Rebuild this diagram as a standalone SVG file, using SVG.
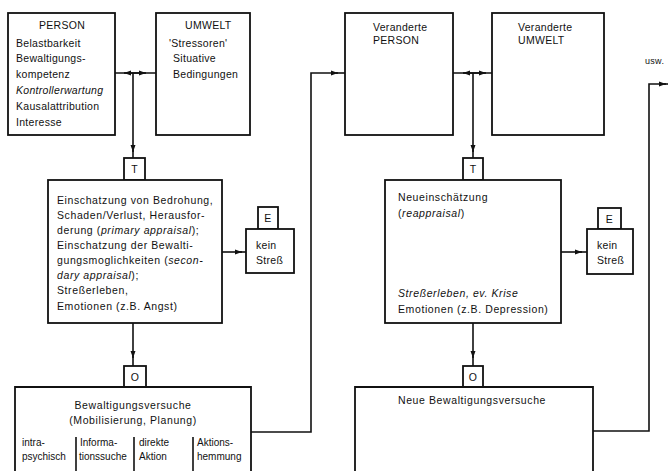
<svg xmlns="http://www.w3.org/2000/svg" width="668" height="471" viewBox="0 0 668 471">
<defs>
<marker id="ah" markerWidth="8" markerHeight="6" refX="7" refY="3" orient="auto" markerUnits="userSpaceOnUse">
<path d="M0,0.5 L7,3 L0,5.5 Z" fill="#111"/>
</marker>
<style>
.box{fill:#fff;stroke:#111;stroke-width:1.8}
.ln{fill:none;stroke:#111;stroke-width:1.6}
.t{font-family:"Liberation Sans","DejaVu Sans",sans-serif;font-size:10.5px;fill:#111;letter-spacing:0.3px}
.w{letter-spacing:0.6px}
.s{font-size:10px;letter-spacing:0}
.i{font-style:italic}
.c{text-anchor:middle}
</style>
</defs>
<rect width="668" height="471" fill="#fff"/>

<g id="connectors">
<path class="ln" d="M115,73 H156"/>
<path class="ln" d="M133,73 H124" marker-end="url(#ah)"/>
<path class="ln" d="M133,73 H146" marker-end="url(#ah)"/>
<path class="ln" d="M133,73 V152" marker-end="url(#ah)"/>
<path class="ln" d="M133,150 V158"/>
<path class="ln" d="M222,252 H242" marker-end="url(#ah)"/>
<path class="ln" d="M240,252 H246"/>
<path class="ln" d="M133,323 V358" marker-end="url(#ah)"/>
<path class="ln" d="M133,356 V366"/>
<path class="ln" d="M251,432 H311 V73 H338" marker-end="url(#ah)"/>
<path class="ln" d="M336,73 H345"/>
<path class="ln" d="M453,73 H492"/>
<path class="ln" d="M473,73 H463" marker-end="url(#ah)"/>
<path class="ln" d="M473,73 H486" marker-end="url(#ah)"/>
<path class="ln" d="M473,73 V152" marker-end="url(#ah)"/>
<path class="ln" d="M473,150 V158"/>
<path class="ln" d="M561,252 H582" marker-end="url(#ah)"/>
<path class="ln" d="M580,252 H587"/>
<path class="ln" d="M473,323 V358" marker-end="url(#ah)"/>
<path class="ln" d="M473,356 V366"/>
<path class="ln" d="M593,431 H649 V84 H666" marker-end="url(#ah)"/>
<path class="ln" d="M664,84 H668"/>
</g>

<g id="person">
<rect class="box" x="8" y="13" width="107" height="122"/>
<text class="t c" x="62" y="29">PERSON</text>
<text class="t" x="16" y="47">Belastbarkeit</text>
<text class="t" x="16" y="62">Bewaltigungs-</text>
<text class="t" x="16" y="78">kompetenz</text>
<text class="t i" x="16" y="94">Kontrollerwartung</text>
<text class="t" x="16" y="110">Kausalattribution</text>
<text class="t" x="16" y="126">Interesse</text>
</g>

<g id="umwelt">
<rect class="box" x="156" y="13" width="94" height="122"/>
<text class="t" x="185" y="29">UMWELT</text>
<text class="t" x="169" y="47">'Stressoren'</text>
<text class="t" x="173" y="62">Situative</text>
<text class="t" x="173" y="78">Bedingungen</text>
</g>

<g id="t1">
<rect class="box" x="124" y="158" width="21" height="22"/>
<text class="t c" x="134.5" y="173">T</text>
</g>

<g id="einschaetzung">
<rect class="box" x="48" y="180" width="174" height="143"/>
<text class="t w" x="57" y="204">Einschatzung von Bedrohung,</text>
<text class="t w" x="57" y="219">Schaden/Verlust, Herausfor-</text>
<text class="t w" x="57" y="234">derung (<tspan class="i">primary appraisal</tspan>);</text>
<text class="t w" x="57" y="249">Einschatzung der Bewalti-</text>
<text class="t w" x="57" y="264">gungsmoglichkeiten (<tspan class="i">secon-</tspan></text>
<text class="t w" x="57" y="279"><tspan class="i">dary appraisal</tspan>);</text>
<text class="t w" x="57" y="294">Streßerleben,</text>
<text class="t w" x="57" y="310">Emotionen (z.B. Angst)</text>
</g>

<g id="e1">
<rect class="box" x="258" y="207" width="20" height="22"/>
<text class="t c" x="268" y="222">E</text>
</g>

<g id="keinstress1">
<rect class="box" x="246" y="229" width="48" height="44"/>
<text class="t" x="256" y="249">kein</text>
<text class="t" x="256" y="264">Streß</text>
</g>

<g id="o1">
<rect class="box" x="124" y="366" width="22" height="21"/>
<text class="t c" x="135" y="381">O</text>
</g>

<g id="bewaeltigung">
<path class="box" d="M15,471 V387 H251 V471"/>
<text class="t c w" x="133" y="409">Bewaltigungsversuche</text>
<text class="t c w" x="133" y="424">(Mobilisierung, Planung)</text>
<path class="ln" d="M76,437 V471 M134,437 V471 M193,437 V471"/>
<text class="t s" x="22" y="446">intra-</text>
<text class="t s" x="22" y="460">psychisch</text>
<text class="t s" x="80" y="446">Informa-</text>
<text class="t s" x="79" y="460">tionssuche</text>
<text class="t s" x="139" y="446">direkte</text>
<text class="t s" x="139" y="460">Aktion</text>
<text class="t s" x="197" y="446">Aktions-</text>
<text class="t s" x="197" y="460">hemmung</text>
</g>

<g id="vperson">
<rect class="box" x="345" y="13" width="108" height="122"/>
<text class="t" x="373" y="31">Veranderte</text>
<text class="t" x="373" y="44">PERSON</text>
</g>

<g id="vumwelt">
<rect class="box" x="492" y="13" width="112" height="122"/>
<text class="t" x="518" y="31">Veranderte</text>
<text class="t" x="518" y="44">UMWELT</text>
</g>

<g id="t2">
<rect class="box" x="463" y="158" width="20" height="22"/>
<text class="t c" x="473" y="173">T</text>
</g>

<g id="neueinschaetzung">
<rect class="box" x="385" y="180" width="176" height="143"/>
<text class="t w" x="398" y="201">Neueinschätzung</text>
<text class="t w" x="398" y="217">(<tspan class="i">reappraisal</tspan>)</text>
<text class="t w" x="398" y="297"><tspan class="i">Streßerleben, ev. Krise</tspan></text>
<text class="t w" x="398" y="313">Emotionen (z.B. Depression)</text>
</g>

<g id="e2">
<rect class="box" x="598" y="208" width="23" height="21"/>
<text class="t c" x="609.5" y="223">E</text>
</g>

<g id="keinstress2">
<rect class="box" x="587" y="229" width="46" height="45"/>
<text class="t" x="597" y="249">kein</text>
<text class="t" x="597" y="264">Streß</text>
</g>

<g id="o2">
<rect class="box" x="463" y="366" width="20" height="21"/>
<text class="t c" x="473" y="381">O</text>
</g>

<g id="neuebewaeltigung">
<path class="box" d="M355,471 V387 H593 V471"/>
<text class="t c w" x="472" y="404">Neue Bewaltigungsversuche</text>
</g>

<g id="usw">
<text class="t" x="645" y="64" style="font-size:9px">usw.</text>
</g>
</svg>
